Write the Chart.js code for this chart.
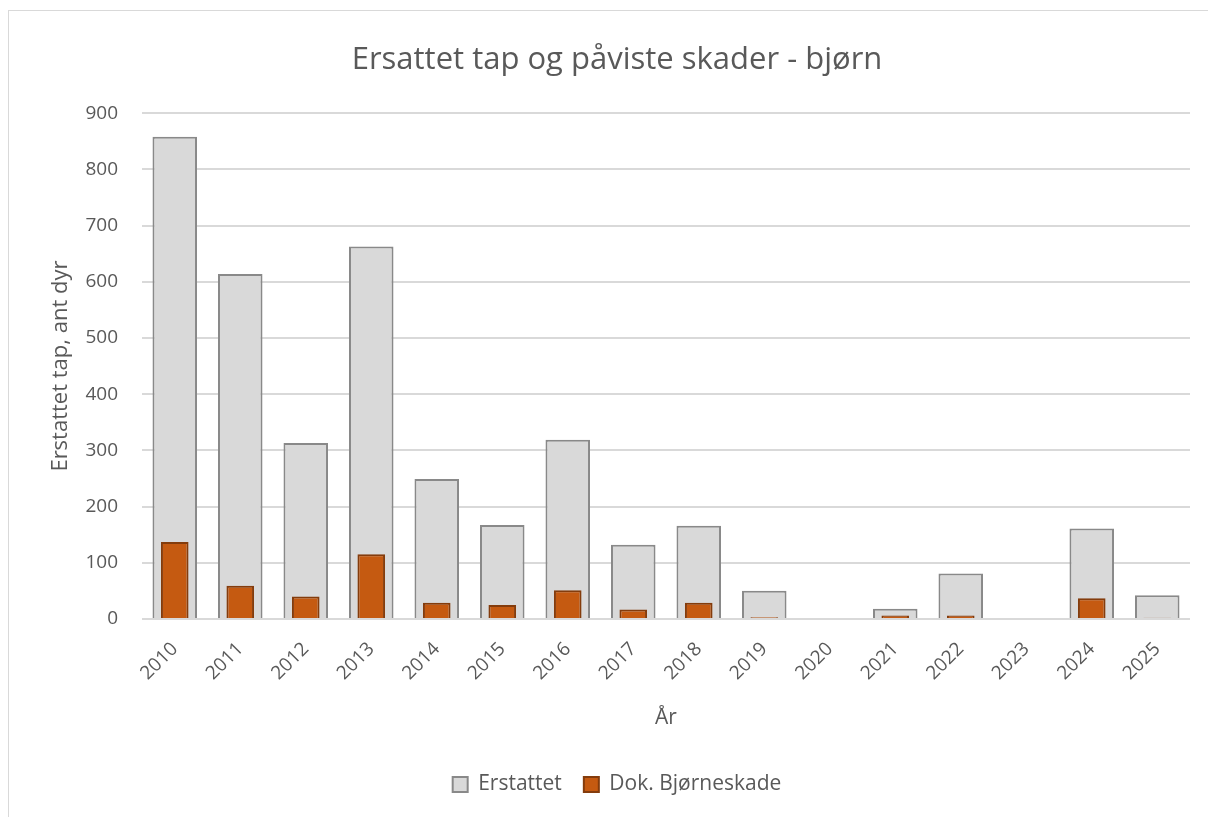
<!DOCTYPE html>
<html>
<head>
  <title>Ersattet tap og påviste skader - bjørn</title>
  <style>
    body { margin: 0; background: #fff; font-family: "Open Sans", sans-serif; }
    #wrap { position: absolute; left: 8px; top: 10px; width: 1220px; height: 830px; border: 1px solid #d9d9d9; }
    #box { position: absolute; left: 0; top: 0; width: 1208px; height: 817px; }
  </style>
  <script src="https://cdn.jsdelivr.net/npm/chart.js"></script>
</head>
<body>
  <div id="wrap"></div>
  <div id="box"><canvas id="chart"></canvas></div>
  <script>
    const years = ['2010', '2011', '2012', '2013', '2014', '2015', '2016', '2017',
                   '2018', '2019', '2020', '2021', '2022', '2023', '2024', '2025'];
    const erstattet = [858, 614, 313, 663, 249, 167, 319, 132, 166, 50, null, 18, 81, null, 161, 42];
    const dokSkade = [137, 59, 40, 115, 29, 25, 51, 17, 29, 3, null, 6, 6, null, 37, 2];
    const yTicks = [0, 100, 200, 300, 400, 500, 600, 700, 800, 900];

    const txt = '#595959';
    const font = '"Open Sans", sans-serif';

    new Chart(document.getElementById('chart'), {
      type: 'bar',
      data: {
        labels: years,
        datasets: [
          {
            label: 'Erstattet',
            data: erstattet,
            backgroundColor: '#d9d9d9',
            borderColor: '#898989',
            borderWidth: 2,
            grouped: false,
            order: 1,
            categoryPercentage: 0.68,
            barPercentage: 1
          },
          {
            label: 'Dok. Bjørneskade',
            data: dokSkade,
            backgroundColor: '#c55a11',
            borderColor: '#843c0c',
            borderWidth: 2,
            grouped: false,
            order: 0,
            categoryPercentage: 0.68,
            barPercentage: 0.62
          }
        ]
      },
      options: {
        responsive: true,
        maintainAspectRatio: false,
        animation: false,
        layout: { padding: { left: 44, right: 18, top: 22, bottom: 12 } },
        plugins: {
          title: {
            display: true,
            text: 'Ersattet tap og påviste skader - bjørn',
            color: txt,
            font: { family: font, size: 31, weight: 'normal' },
            padding: { top: 20, bottom: 34 }
          },
          legend: {
            position: 'bottom',
            labels: {
              sort: (a, b) => a.datasetIndex - b.datasetIndex,
              color: txt,
              font: { family: font, size: 21 },
              boxWidth: 15,
              boxHeight: 15,
              padding: 22
            }
          },
          tooltip: { enabled: false }
        },
        scales: {
          x: {
            grid: { display: false },
            border: { display: false },
            ticks: {
              color: txt,
              font: { family: font, size: 19 },
              minRotation: 45,
              maxRotation: 45,
              padding: 11
            },
            title: {
              display: true,
              text: 'År',
              color: txt,
              font: { family: font, size: 21 },
              padding: { top: 10, bottom: 21 }
            }
          },
          y: {
            min: 0,
            max: 900,
            afterBuildTicks: (axis) => { axis.ticks = yTicks.map(v => ({ value: v })); },
            afterFit: (axis) => { axis.width = 98; },
            grid: { color: '#d9d9d9', lineWidth: 2, drawTicks: false },
            border: { display: false },
            ticks: {
              color: txt,
              font: { family: font, size: 19 },
              padding: 24
            },
            title: {
              display: true,
              text: 'Erstattet tap, ant dyr',
              color: txt,
              font: { family: font, size: 22 },
              padding: { top: 4, bottom: 9 }
            }
          }
        }
      }
    });
  </script>
</body>
</html>
